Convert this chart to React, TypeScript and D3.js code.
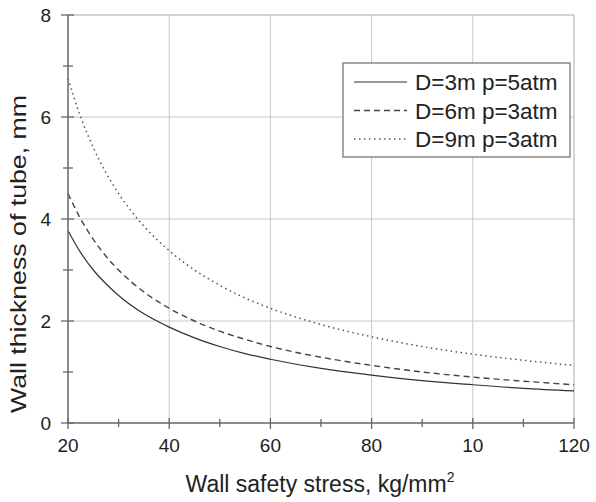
import React from "react";
import * as d3 from "d3";

const stress = [20, 22.5, 25, 27.5, 30, 35, 40, 45, 50, 55, 60, 70, 80, 90, 100, 110, 120];
const thickD3p5 = [3.77, 3.34, 3.0, 2.73, 2.5, 2.14, 1.88, 1.67, 1.5, 1.36, 1.25, 1.07, 0.94, 0.83, 0.75, 0.68, 0.63];
const thickD6p3 = [4.5, 4.0, 3.6, 3.27, 3.0, 2.57, 2.25, 2.0, 1.8, 1.64, 1.5, 1.29, 1.13, 1.0, 0.9, 0.82, 0.75];
const thickD9p3 = [6.75, 6.0, 5.4, 4.91, 4.5, 3.86, 3.38, 3.0, 2.7, 2.45, 2.25, 1.93, 1.69, 1.5, 1.35, 1.23, 1.13];
const seriesNames = ["D=3m p=5atm", "D=6m p=3atm", "D=9m p=3atm"];
const xTicks = [20, 40, 60, 80, 100, 120];
const xTickLabels = ["20", "40", "60", "80", "10", "120"];
const xMinor = [30, 50, 70, 90, 110];
const yTicks = [0, 2, 4, 6, 8];
const yMinor = [1, 3, 5, 7];

const W = 596;
const H = 502;
const left = 68;
const right = 574;
const top = 15;
const bottom = 423;
const FONT = "Liberation Sans, Arial, Helvetica, sans-serif";

export default function App() {
  const x = d3.scaleLinear().domain([20, 120]).range([left, right]);
  const y = d3.scaleLinear().domain([0, 8]).range([bottom, top]);
  const line = d3
    .line<[number, number]>()
    .x((d) => x(d[0]))
    .y((d) => y(d[1]))
    .curve(d3.curveMonotoneX);
  const series = [thickD3p5, thickD6p3, thickD9p3];
  const styles = [
    { dash: "none", width: 1.2, color: "#333" },
    { dash: "6,4", width: 1.4, color: "#444" },
    { dash: "1.5,3.5", width: 1.5, color: "#555" },
  ];
  const axisColor = "#666";
  const gridColor = "#c8c8c8";
  const textColor = "#222";

  return (
    <svg
      width={W}
      height={H}
      style={{ position: "absolute", left: 0, top: 0, background: "#fff" }}
    >
      <rect x={0} y={0} width={W} height={H} fill="#fff" />
      {xTicks.slice(1).map((t) => (
        <line key={"gx" + t} x1={x(t)} x2={x(t)} y1={top} y2={bottom} stroke={t === 120 ? "#aaa" : gridColor} strokeWidth={1} />
      ))}
      {yTicks.slice(1).map((t) => (
        <line key={"gy" + t} x1={left} x2={right} y1={y(t)} y2={y(t)} stroke={t === 8 ? "#aaa" : gridColor} strokeWidth={1} />
      ))}
      {series.map((vals, i) => (
        <path
          key={"s" + i}
          d={line(stress.map((s, j) => [s, vals[j]] as [number, number])) || ""}
          fill="none"
          stroke={styles[i].color}
          strokeWidth={styles[i].width}
          strokeDasharray={styles[i].dash}
        />
      ))}
      <line x1={left} x2={left} y1={top} y2={bottom} stroke={axisColor} strokeWidth={1.5} />
      <line x1={left} x2={right} y1={bottom} y2={bottom} stroke={axisColor} strokeWidth={1.5} />
      {xTicks.map((t, i) => (
        <g key={"xt" + t}>
          <line x1={x(t)} x2={x(t)} y1={bottom - 5} y2={bottom + 6} stroke={axisColor} strokeWidth={1.3} />
          <text x={x(t)} y={bottom + 29} textAnchor="middle" fontFamily={FONT} fontSize={19} fill={textColor}>
            {xTickLabels[i]}
          </text>
        </g>
      ))}
      {xMinor.map((t) => (
        <line key={"xm" + t} x1={x(t)} x2={x(t)} y1={bottom - 4} y2={bottom + 4} stroke={axisColor} strokeWidth={1.3} />
      ))}
      {yTicks.map((t) => (
        <g key={"yt" + t}>
          <line x1={left - 7} x2={left + 6} y1={y(t)} y2={y(t)} stroke={axisColor} strokeWidth={1.3} />
          <text x={left - 17} y={y(t) + 7} textAnchor="end" fontFamily={FONT} fontSize={19} fill={textColor}>
            {t}
          </text>
        </g>
      ))}
      {yMinor.map((t) => (
        <line key={"ym" + t} x1={left - 5} x2={left + 5} y1={y(t)} y2={y(t)} stroke={axisColor} strokeWidth={1.3} />
      ))}
      <text x={320} y={492} textAnchor="middle" fontFamily={FONT} fontSize={23} fill={textColor}>
        Wall safety stress, kg/mm
        <tspan fontSize={14} dy={-10}>2</tspan>
      </text>
      <text
        transform={`translate(26, 254) rotate(-90)`}
        textAnchor="middle"
        fontFamily={FONT}
        fontSize={22}
        fill={textColor}
        textLength={318}
        lengthAdjust="spacingAndGlyphs"
      >
        Wall thickness of tube, mm
      </text>
      <rect x={343} y={63} width={227} height={94} fill="#fff" stroke="#777" strokeWidth={1.3} />
      {seriesNames.map((name, i) => {
        const cy = 82 + i * 28.5;
        return (
          <g key={"lg" + i}>
            <line x1={354} x2={407} y1={cy} y2={cy} stroke={styles[i].color} strokeWidth={styles[i].width} strokeDasharray={styles[i].dash} />
            <text x={415} y={cy + 8} fontFamily={FONT} fontSize={22.5} fill={textColor}>
              {name}
            </text>
          </g>
        );
      })}
    </svg>
  );
}
